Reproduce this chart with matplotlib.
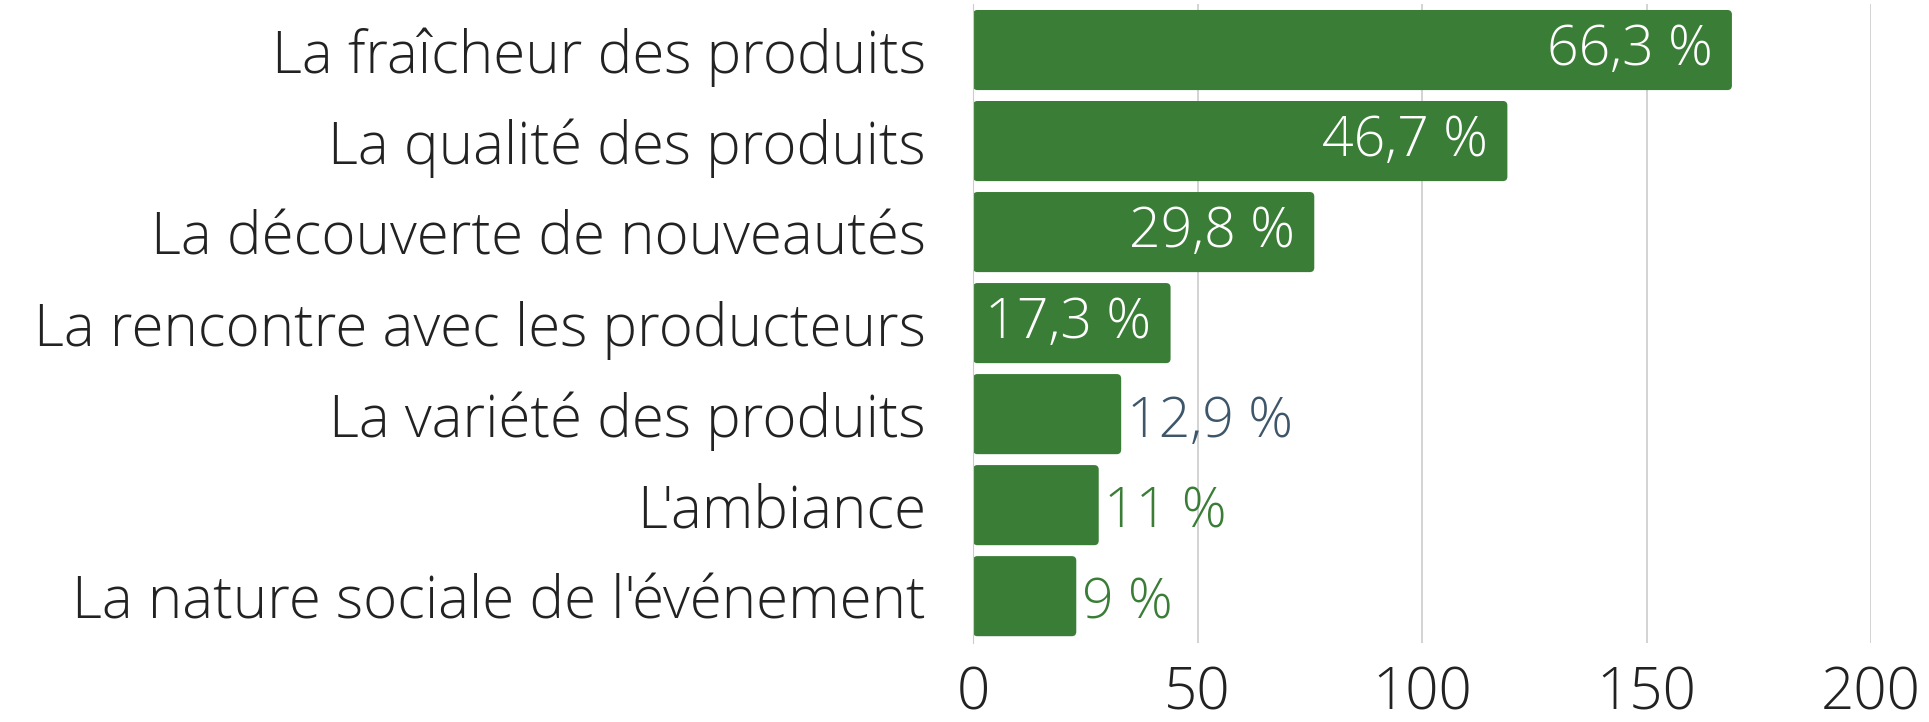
import matplotlib
matplotlib.use("Agg")
import matplotlib.pyplot as plt
from matplotlib.patches import FancyBboxPatch

plt.rcParams['font.family'] = ['Open Sans', 'DejaVu Sans']

categories = ["La fraîcheur des produits", "La qualité des produits",
              "La découverte de nouveautés", "La rencontre avec les producteurs",
              "La variété des produits", "L'ambiance",
              "La nature sociale de l'événement"]
counts = [169, 119, 76, 44, 33, 28, 23]
labels = ["66,3 %", "46,7 %", "29,8 %", "17,3 %", "12,9 %", "11 %", "9 %"]
inside = [True, True, True, True, False, False, False]
label_colors = ["white", "white", "white", "white", "#3d566a", "#3a7d36", "#3a7d36"]
xticks = [0, 50, 100, 150, 200]

GREEN = "#3a7d36"

fig = plt.figure(figsize=(19.29, 7.22), dpi=100)
ax = fig.add_axes([0.5044, 0.11, 0.4656, 0.885])

ypos = list(range(len(categories)))
bars = ax.barh(ypos, counts, height=0.88, color=GREEN, zorder=2)

# rounded corners: swap the plain bars for rounded boxes
for b in bars:
    x0, y0 = b.get_x(), b.get_y()
    w, h = b.get_width(), b.get_height()
    b.set_visible(False)
    p = FancyBboxPatch((x0, y0), w, h,
                       boxstyle="round,pad=0,rounding_size=1.0",
                       mutation_aspect=0.05, fc=GREEN, ec="none", zorder=2)
    ax.add_patch(p)

for y, c, lab, ins, col in zip(ypos, counts, labels, inside, label_colors):
    if ins:
        ax.annotate(lab, (c, y), xytext=(-14, 0), textcoords="offset points",
                    ha="right", va="center", color=col, fontsize=40, fontweight=300)
    else:
        ax.annotate(lab, (c, y), xytext=(4, -6), textcoords="offset points",
                    ha="left", va="center", color=col, fontsize=40, fontweight=300)

ax.set_xlim(0, 200)
ax.set_ylim(len(categories) - 0.5 + 0.01, -0.5 - 0.01)
ax.set_xticks(xticks)
ax.set_yticks(ypos)
ax.set_yticklabels(categories)
ax.tick_params(axis="y", length=0, pad=34, labelsize=42, labelcolor="#222222")
ax.tick_params(axis="x", length=0, pad=16, labelsize=42, labelcolor="#222222")
for t in ax.get_xticklabels() + ax.get_yticklabels():
    t.set_fontweight(300)

ax.grid(axis="x", color="#cccccc", linewidth=1.2, zorder=0)
for s in ["top", "right", "bottom"]:
    ax.spines[s].set_visible(False)
ax.spines["left"].set_color("#cccccc")

fig.savefig("out.png", dpi=100, facecolor="white")
